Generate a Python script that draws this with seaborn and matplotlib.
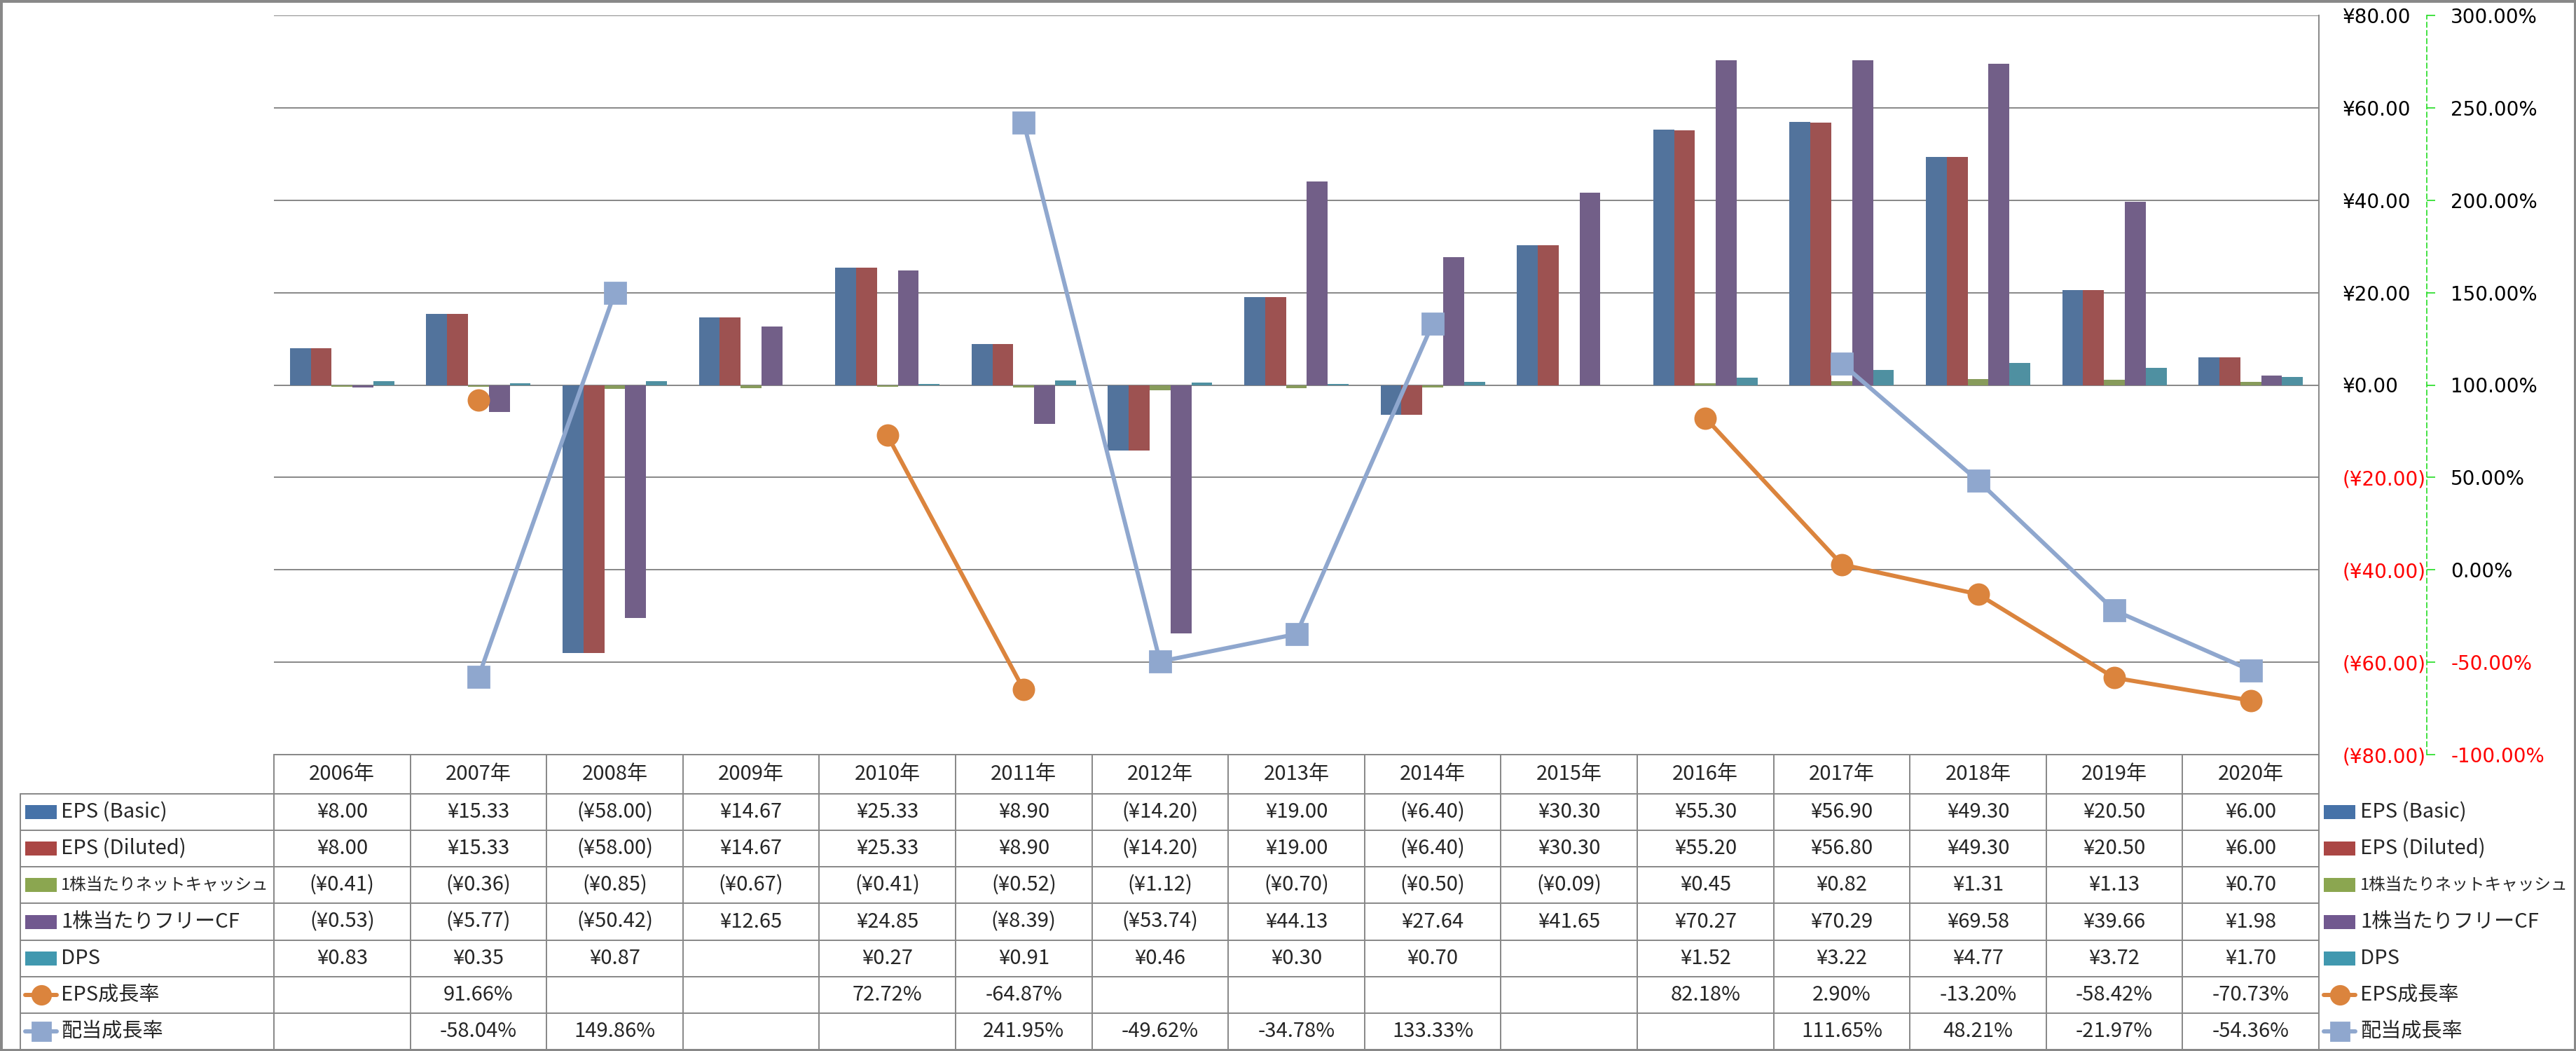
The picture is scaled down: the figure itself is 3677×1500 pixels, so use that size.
import numpy as np
import pandas as pd
import seaborn as sns
import matplotlib.pyplot as plt
from matplotlib.patches import Rectangle
from matplotlib.lines import Line2D

# データ
years = ["2006年", "2007年", "2008年", "2009年", "2010年", "2011年", "2012年", "2013年",
         "2014年", "2015年", "2016年", "2017年", "2018年", "2019年", "2020年"]
eps_basic = [8.00, 15.33, -58.00, 14.67, 25.33, 8.90, -14.20, 19.00, -6.40, 30.30, 55.30, 56.90, 49.30, 20.50, 6.00]
eps_diluted = [8.00, 15.33, -58.00, 14.67, 25.33, 8.90, -14.20, 19.00, -6.40, 30.30, 55.20, 56.80, 49.30, 20.50, 6.00]
net_cash = [-0.41, -0.36, -0.85, -0.67, -0.41, -0.52, -1.12, -0.70, -0.50, -0.09, 0.45, 0.82, 1.31, 1.13, 0.70]
free_cf = [-0.53, -5.77, -50.42, 12.65, 24.85, -8.39, -53.74, 44.13, 27.64, 41.65, 70.27, 70.29, 69.58, 39.66, 1.98]
dps = [0.83, 0.35, 0.87, np.nan, 0.27, 0.91, 0.46, 0.30, 0.70, np.nan, 1.52, 3.22, 4.77, 3.72, 1.70]
eps_growth = [np.nan, 91.66, np.nan, np.nan, 72.72, -64.87, np.nan, np.nan, np.nan, np.nan,
              82.18, 2.90, -13.20, -58.42, -70.73]
div_growth = [np.nan, -58.04, 149.86, np.nan, np.nan, 241.95, -49.62, -34.78, 133.33, np.nan,
              np.nan, 111.65, 48.21, -21.97, -54.36]

bar_names = ["EPS (Basic)", "EPS (Diluted)", "1株当たりネットキャッシュ", "1株当たりフリーCF", "DPS"]
bar_values = [eps_basic, eps_diluted, net_cash, free_cf, dps]
bar_colors = ["#4672A8", "#AA4644", "#8BA650", "#71588F", "#4198AF"]
line_names = ["EPS成長率", "配当成長率"]
line_values = [eps_growth, div_growth]
line_colors = ["#DB843D", "#8FA7CE"]
line_markers = ["o", "s"]

# レイアウト (ピクセル)
W, H = 3677, 1500
PL, PR, PT, PB = 391, 3310, 22, 1077
GRID = "#878787"

sns.set_style("white")
plt.rcParams["font.family"] = ["DejaVu Sans"]
CJK = ["Noto Sans CJK JP", "DejaVu Sans"]

fig = plt.figure(figsize=(W / 100, H / 100), dpi=100)
ax = fig.add_axes([PL / W, 1 - PB / H, (PR - PL) / W, (PB - PT) / H])

rows = []
for name, vals in zip(bar_names, bar_values):
    for y, v in zip(years, vals):
        if not np.isnan(v):
            rows.append({"year": y, "series": name, "value": v})
df = pd.DataFrame(rows)

sns.barplot(data=df, x="year", y="value", hue="series", order=years, hue_order=bar_names,
            palette=dict(zip(bar_names, bar_colors)), width=0.766, gap=0, errorbar=None,
            linewidth=0, legend=False, ax=ax)

# 第2軸 (twinx は元の軸の目盛を左に戻すので先に作る)
ax2 = ax.twinx()

ax.set_xlim(-0.5, len(years) - 0.5)
ax.set_ylim(-80, 80)
yt = np.arange(-80, 81, 20)
ax.set_yticks(yt)
ax.set_yticklabels([f"¥{v:.2f}" if v >= 0 else f"(¥{abs(v):.2f})" for v in yt])
ax.yaxis.tick_right()
ax.tick_params(axis="y", length=0, pad=24.5, labelsize=20)
for tk, v in zip(ax.yaxis.get_major_ticks(), yt):
    tk.label2.set_color("red" if v < 0 else "black")
ax.set_xticks([])
ax.set_xlabel("")
ax.set_ylabel("")
ax.yaxis.grid(True, color=GRID, linewidth=1.4)
ax.set_axisbelow(True)
for s in ["left", "top", "bottom"]:
    ax.spines[s].set_visible(False)
ax.spines["right"].set_color(GRID)
ax.spines["right"].set_linewidth(1.4)

x = np.arange(len(years))
for name, vals, c, m in zip(line_names, line_values, line_colors, line_markers):
    ax2.plot(x, vals, color=c, linewidth=4.3, marker=m, markersize=21, markerfacecolor=c,
             markeredgecolor=c, markeredgewidth=2, label=name, solid_joinstyle="round")
ax2.set_ylim(-100, 300)
pt = np.arange(-100, 301, 50)
ax2.set_yticks(pt)
ax2.set_yticklabels([f"{v:.2f}%" for v in pt])
for s in ["left", "top", "bottom"]:
    ax2.spines[s].set_visible(False)
ax2.spines["right"].set_position(("axes", (3464 - PL) / (PR - PL)))
ax2.spines["right"].set_color("#22DD22")
ax2.spines["right"].set_linestyle((0, (4, 3)))
ax2.spines["right"].set_linewidth(1.2)
ax2.tick_params(axis="y", length=8.6, width=1.2, color="#22DD22", pad=16, labelsize=20)
for tk, v in zip(ax2.yaxis.get_major_ticks(), pt):
    tk.label2.set_color("red" if v < 0 else "black")
ax2.set_xlim(-0.5, len(years) - 0.5)

# データテーブル
ov = fig.add_axes([0, 0, 1, 1], zorder=5)
ov.set_xlim(0, W)
ov.set_ylim(H, 0)
ov.axis("off")

n = len(years)
colw = (PR - PL) / n
col_edges = PL + colw * np.arange(n + 1)
row_edges = np.linspace(1133, 1498, 8)
row_mid = (row_edges[:-1] + row_edges[1:]) / 2
lw_t = 1.4

ov.plot([PL, PR], [PB, PB], color=GRID, lw=lw_t)
for ye in row_edges:
    ov.plot([29, PR], [ye, ye], color=GRID, lw=lw_t)
for xe in col_edges[:-1]:
    ov.plot([xe, xe], [PB, row_edges[-1]], color=GRID, lw=lw_t)
ov.plot([PR, PR], [PB, H], color=GRID, lw=lw_t)
ov.plot([29, 29], [row_edges[0], row_edges[-1]], color=GRID, lw=lw_t)

for i, y in enumerate(years):
    ov.text((col_edges[i] + col_edges[i + 1]) / 2, (PB + row_edges[0]) / 2, y,
            ha="center", va="center", fontsize=21, family=CJK)


def yen(v):
    if np.isnan(v):
        return ""
    return f"¥{v:.2f}" if v >= 0 else f"(¥{abs(v):.2f})"


def pct(v):
    return "" if np.isnan(v) else f"{v:.2f}%"


table_rows = [(nm, [yen(v) for v in vals]) for nm, vals in zip(bar_names, bar_values)]
table_rows += [(nm, [pct(v) for v in vals]) for nm, vals in zip(line_names, line_values)]
for r, (nm, cells) in enumerate(table_rows):
    for i, t in enumerate(cells):
        ov.text((col_edges[i] + col_edges[i + 1]) / 2, row_mid[r], t,
                ha="center", va="center", fontsize=21, family=CJK)

# 凡例キー (表の左側と右側)
key_styles = [("bar", c, None) for c in bar_colors] + \
             [("line", c, m) for c, m in zip(line_colors, line_markers)]
label_sizes = [21, 21, 17, 21, 21, 21, 21]
for r, ((kind, c, m), (nm, _)) in enumerate(zip(key_styles, table_rows)):
    for kx, tx in [(36, 87), (3317, 3369)]:
        if kind == "bar":
            ov.add_patch(Rectangle((kx, row_mid[r] - 10), 45, 20, color=c, lw=0))
        else:
            ov.add_line(Line2D([kx, kx + 45], [row_mid[r], row_mid[r]], color=c, lw=4.3,
                               solid_capstyle="round"))
            ov.plot([kx + 22.5], [row_mid[r]], marker=m, ms=19, color=c, mec=c, mew=2)
        ov.text(tx, row_mid[r], nm, ha="left", va="center", fontsize=label_sizes[r], family=CJK)

fig.add_artist(Rectangle((0, 0), 1, 1, transform=fig.transFigure, fill=False,
                         edgecolor="#888888", linewidth=5))

fig.savefig("out.png", dpi=100)
